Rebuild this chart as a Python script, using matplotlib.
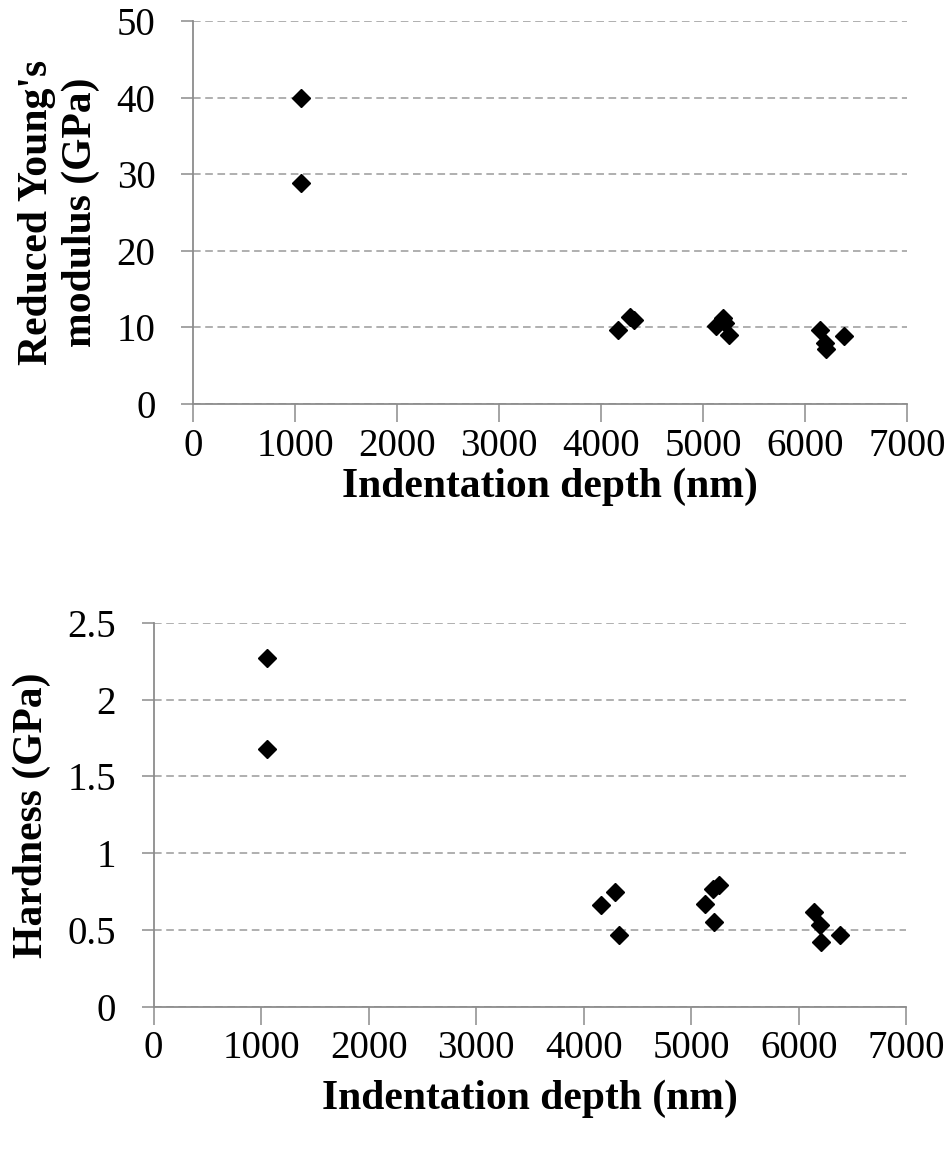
import numpy as np
import matplotlib.pyplot as plt

# indentation depth (nm), same indents in both panels
depth = [1055, 1055, 4165, 4290, 4325, 5130, 5200, 5260, 5215, 6145, 6195, 6205, 6380]
modulus = [39.9, 28.8, 9.6, 11.4, 10.9, 10.2, 11.2, 9.0, 10.6, 9.6, 8.0, 7.2, 8.9]
hardness = [2.27, 1.68, 0.66, 0.75, 0.47, 0.67, 0.77, 0.79, 0.55, 0.62, 0.53, 0.42, 0.47]

xticks = [0, 1000, 2000, 3000, 4000, 5000, 6000, 7000]
mod_ticks = [0, 10, 20, 30, 40, 50]
hard_ticks = [0, 0.5, 1, 1.5, 2, 2.5]
hard_labels = ['0', '0.5', '1', '1.5', '2', '2.5']

plt.rcParams['font.family'] = ['Liberation Serif', 'DejaVu Serif']

fig = plt.figure(figsize=(9.48, 11.64), dpi=100)
ax1 = fig.add_axes([0.2036, 0.653, 0.753, 0.329])
ax2 = fig.add_axes([0.162, 0.135, 0.794, 0.330])

axis_grey = '#8c8c8c'


def style(ax, yticks, ylabels, ylim, xpad):
    ax.set_xlim(0, 7000)
    ax.set_ylim(*ylim)
    ax.set_xticks(xticks)
    ax.set_yticks(yticks)
    ax.set_yticklabels(ylabels)
    for s in ['top', 'right']:
        ax.spines[s].set_visible(False)
    for s in ['left', 'bottom']:
        ax.spines[s].set_color(axis_grey)
        ax.spines[s].set_linewidth(1.3)
    ax.tick_params(axis='x', length=13, width=1.1, color=axis_grey,
                   labelsize=28, pad=4, direction='out')
    ax.tick_params(axis='y', length=9, width=1.1, color=axis_grey,
                   labelsize=28, pad=18, direction='out')
    ax.yaxis.grid(True, linestyle=(0, (5, 3)), color='#9a9a9a', linewidth=1.1)
    ax.set_axisbelow(True)
    ax.set_xlabel('Indentation depth (nm)', fontsize=30, fontweight='bold',
                  labelpad=xpad)


ax1.plot(depth, modulus, linestyle='', marker='D', markersize=9, color='black',
         clip_on=False, zorder=3)
style(ax1, mod_ticks, [str(t) for t in mod_ticks], (0, 50), 2)
ax1.set_ylabel("Reduced Young's\nmodulus (GPa)", fontsize=30, fontweight='bold',
               labelpad=12, linespacing=1.2)

ax2.plot(depth, hardness, linestyle='', marker='D', markersize=9, color='black',
         clip_on=False, zorder=3)
style(ax2, hard_ticks, hard_labels, (0, 2.5), 9)
ax2.set_ylabel('Hardness (GPa)', fontsize=30, fontweight='bold', labelpad=12)

fig.savefig('out.png', dpi=100)
